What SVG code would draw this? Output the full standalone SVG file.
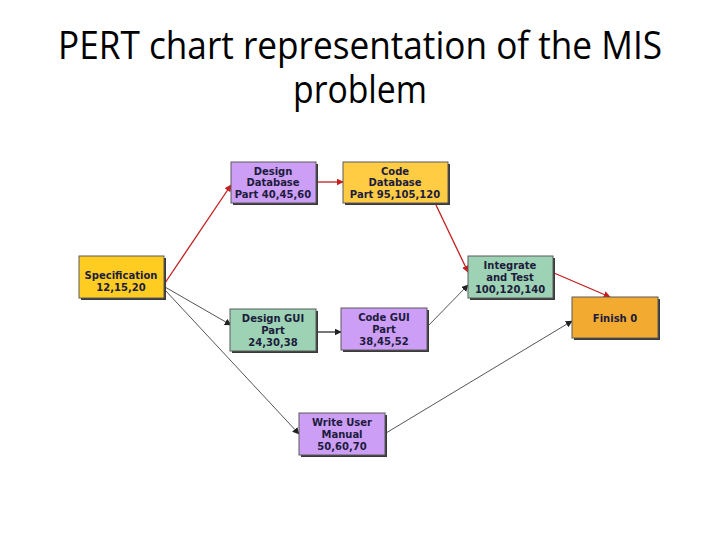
<svg xmlns="http://www.w3.org/2000/svg" width="720" height="540" viewBox="0 0 720 540">
<defs>
<style>
.title{font-family:"Open Sans","Liberation Sans",sans-serif;font-size:38px;fill:#000}
.shadow{fill:#3a3a3a}
.box{stroke:#5a5a5a;stroke-width:1}
.y{fill:#FFCC22}
.y2{fill:#FFCC44}
.p{fill:#CC9EF5}
.g{fill:#9ED2B4}
.o{fill:#F2AA30}
.t{font-family:"DejaVu Sans","Verdana",sans-serif;font-weight:bold;font-size:10px;fill:#1c1c3c;text-anchor:middle}
.red{stroke:#C41E1E;stroke-width:1.3;fill:none}
.gray{stroke:#555;stroke-width:1;fill:none}
.gray2{stroke:#555;stroke-width:1.6;fill:none}
</style>
<marker id="ar" viewBox="0 0 10 10" refX="9" refY="5" markerWidth="7" markerHeight="7" markerUnits="userSpaceOnUse" orient="auto"><path d="M0,0 L10,5 L0,10 z" fill="#C41E1E"/></marker>
<marker id="ag" viewBox="0 0 10 10" refX="9" refY="5" markerWidth="7" markerHeight="7" markerUnits="userSpaceOnUse" orient="auto"><path d="M0,0 L10,5 L0,10 z" fill="#222"/></marker>
</defs>
<rect width="720" height="540" fill="#fff"/>
<text class="title" x="360" y="59" text-anchor="middle" textLength="604" lengthAdjust="spacingAndGlyphs">PERT chart representation of the MIS</text>
<text class="title" x="360" y="103" text-anchor="middle" textLength="134" lengthAdjust="spacingAndGlyphs">problem</text>
<g id="connectors">
<line class="red" x1="165" y1="283" x2="231" y2="185" marker-end="url(#ar)"/>
<line class="red" x1="317" y1="182" x2="343" y2="182" marker-end="url(#ar)"/>
<line class="red" x1="436" y1="205" x2="468" y2="272" marker-end="url(#ar)"/>
<line class="red" x1="554" y1="273" x2="610" y2="297" marker-end="url(#ar)"/>
<line class="gray" x1="165" y1="287" x2="231" y2="325" marker-end="url(#ag)"/>
<line class="gray" x1="165" y1="290" x2="299" y2="434" marker-end="url(#ag)"/>
<line class="gray2" x1="317" y1="332" x2="341" y2="332" marker-end="url(#ag)"/>
<line class="gray" x1="427" y1="327" x2="468" y2="285" marker-end="url(#ag)"/>
<line class="gray" x1="386" y1="433" x2="572" y2="321" marker-end="url(#ag)"/>
</g>
<g id="spec">
<rect class="shadow" x="81" y="258" width="85" height="42"/>
<rect class="box y" x="79" y="256" width="85" height="42"/>
<text class="t" x="121" y="279">Specification</text>
<text class="t" x="121" y="291">12,15,20</text>
</g>
<g id="designdb">
<rect class="shadow" x="233" y="164" width="85" height="41"/>
<rect class="box p" x="231" y="162" width="85" height="41"/>
<text class="t" x="273" y="175">Design</text>
<text class="t" x="273" y="186">Database</text>
<text class="t" x="273" y="198">Part 40,45,60</text>
</g>
<g id="codedb">
<rect class="shadow" x="345" y="164" width="105" height="41"/>
<rect class="box y2" x="343" y="162" width="105" height="41"/>
<text class="t" x="395" y="175">Code</text>
<text class="t" x="395" y="186">Database</text>
<text class="t" x="395" y="198">Part 95,105,120</text>
</g>
<g id="integrate">
<rect class="shadow" x="470" y="258" width="85" height="42"/>
<rect class="box g" x="468" y="256" width="85" height="42"/>
<text class="t" x="510" y="269">Integrate</text>
<text class="t" x="510" y="281">and Test</text>
<text class="t" x="510" y="293">100,120,140</text>
</g>
<g id="finish">
<rect class="shadow" x="574" y="299" width="86" height="41"/>
<rect class="box o" x="572" y="297" width="86" height="41"/>
<text class="t" x="615" y="322">Finish 0</text>
</g>
<g id="designgui">
<rect class="shadow" x="232" y="311" width="86" height="42"/>
<rect class="box g" x="230" y="309" width="86" height="42"/>
<text class="t" x="273" y="322">Design GUI</text>
<text class="t" x="273" y="334">Part</text>
<text class="t" x="273" y="346">24,30,38</text>
</g>
<g id="codegui">
<rect class="shadow" x="343" y="310" width="86" height="42"/>
<rect class="box p" x="341" y="308" width="86" height="42"/>
<text class="t" x="384" y="321">Code GUI</text>
<text class="t" x="384" y="333">Part</text>
<text class="t" x="384" y="345">38,45,52</text>
</g>
<g id="manual">
<rect class="shadow" x="301" y="415" width="86" height="42"/>
<rect class="box p" x="299" y="413" width="86" height="42"/>
<text class="t" x="342" y="426">Write User</text>
<text class="t" x="342" y="438">Manual</text>
<text class="t" x="342" y="450">50,60,70</text>
</g>
</svg>
